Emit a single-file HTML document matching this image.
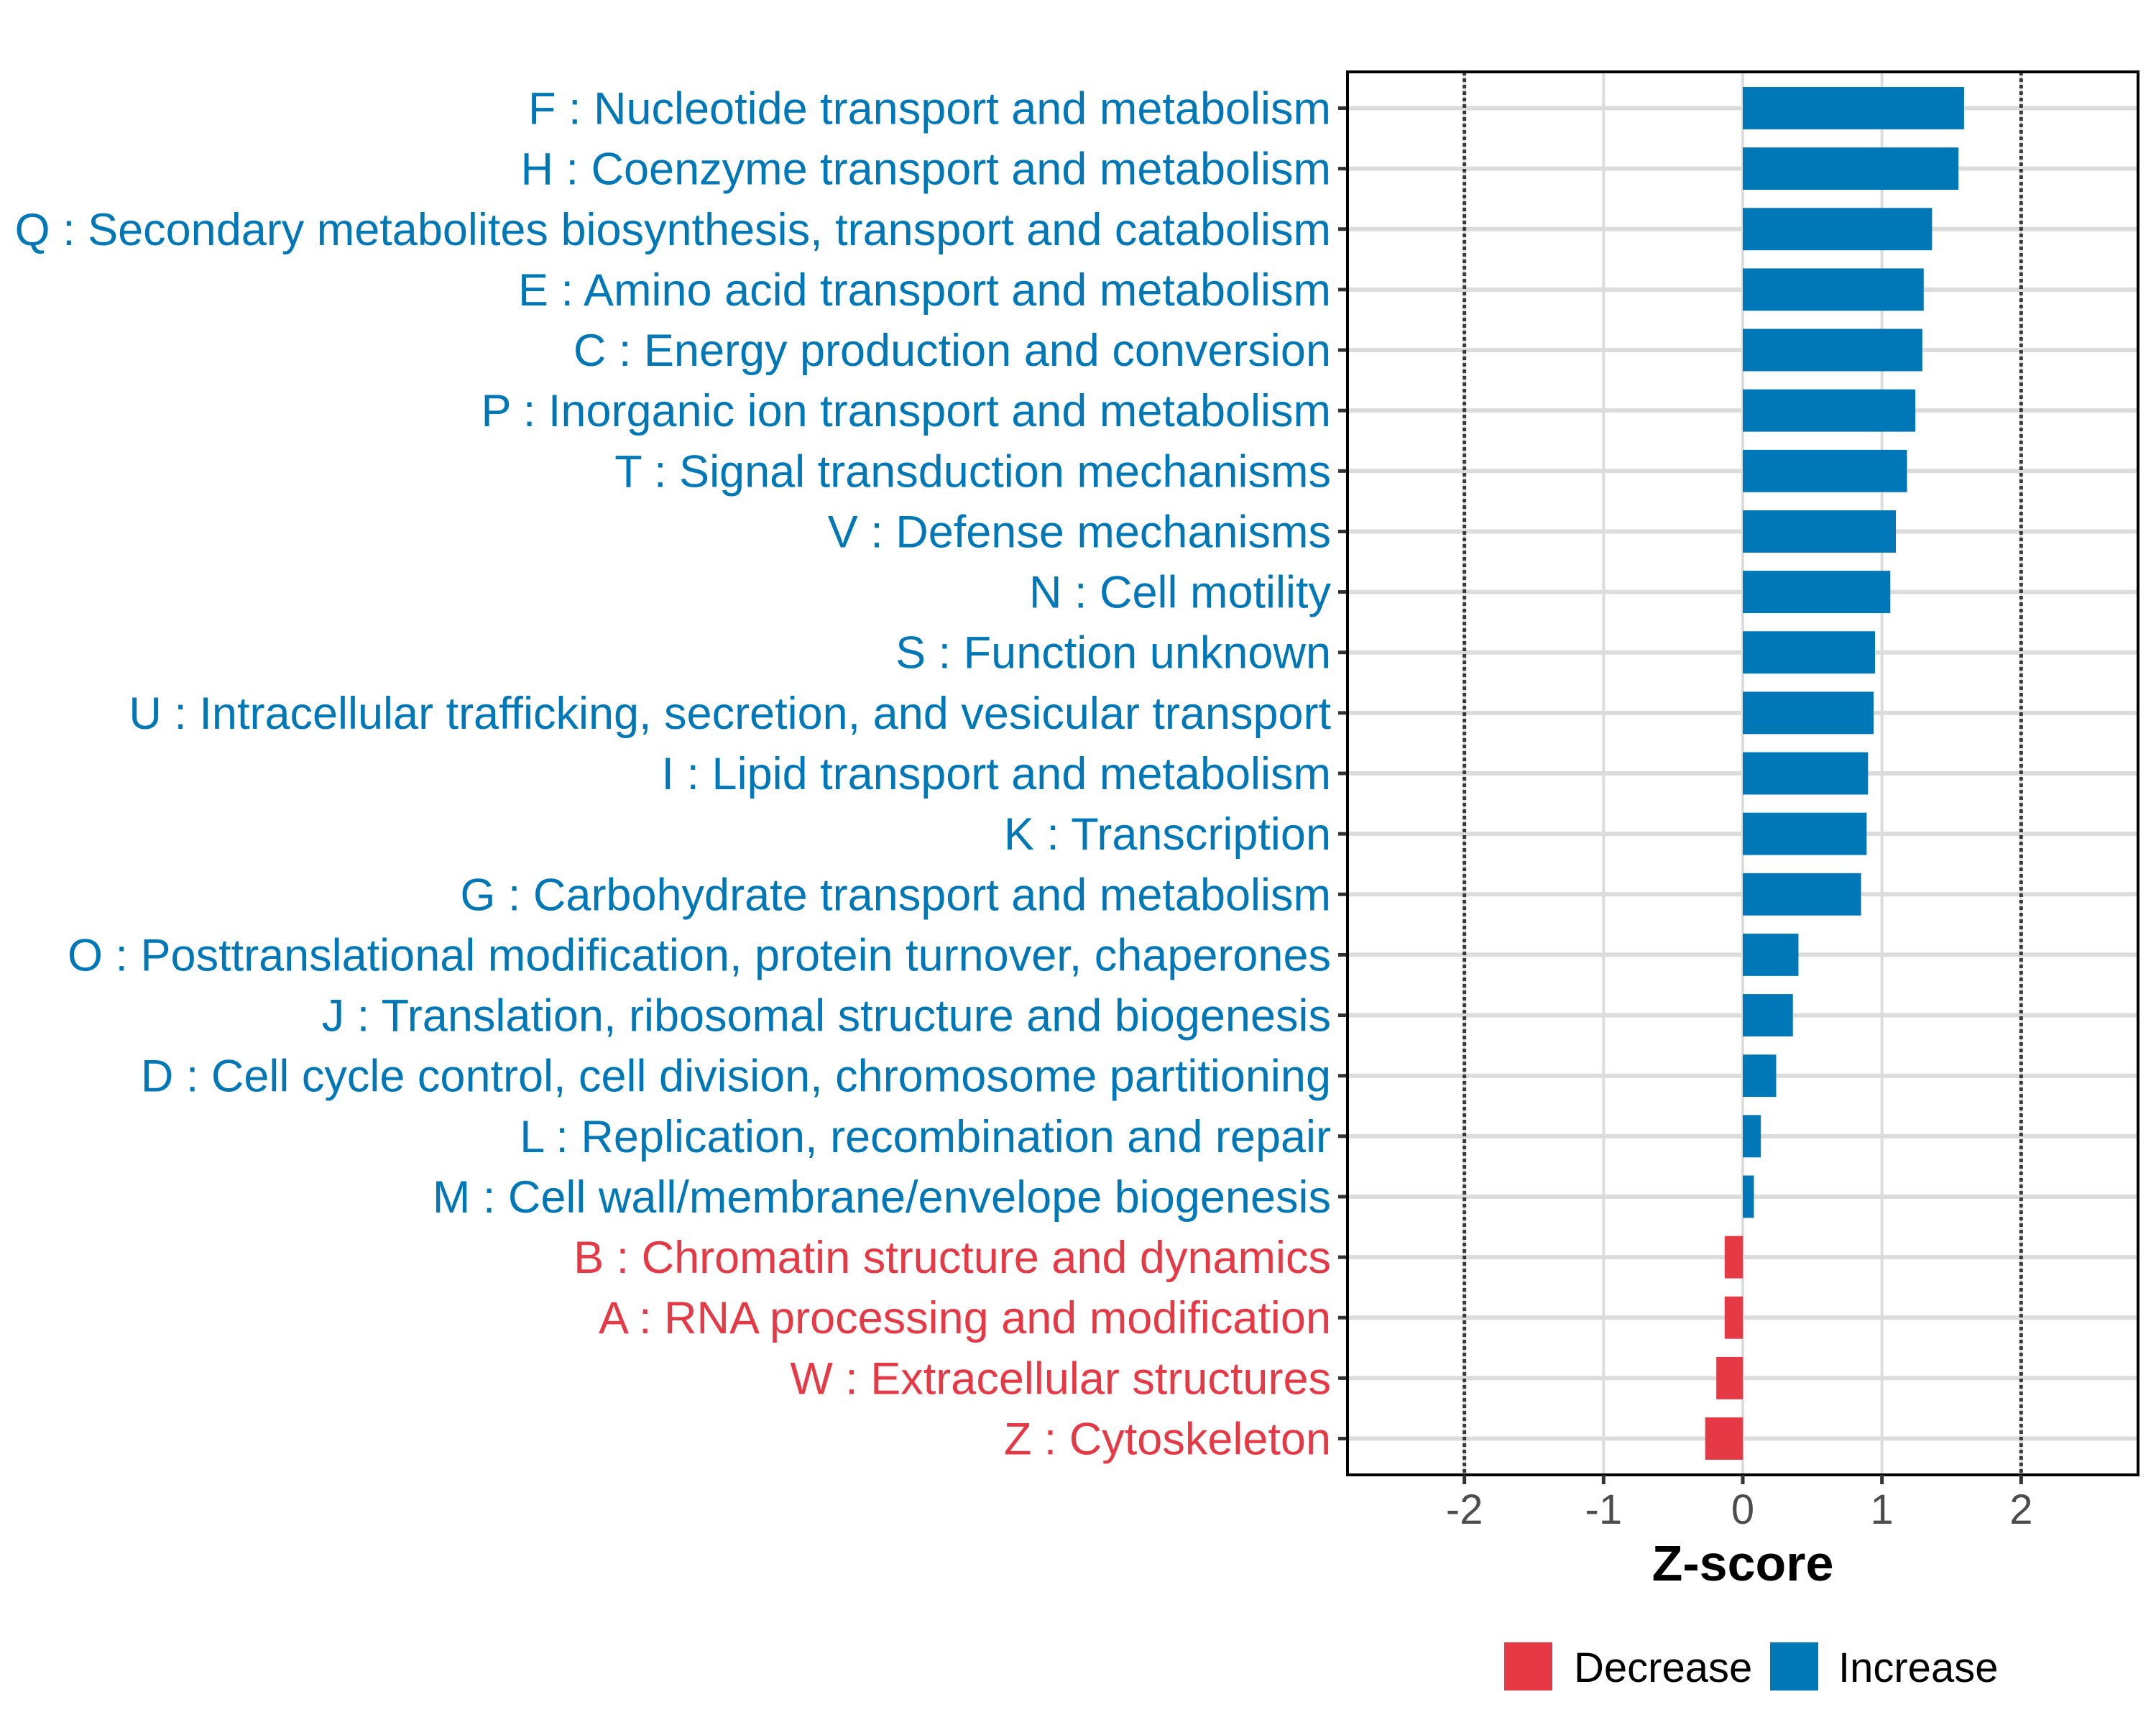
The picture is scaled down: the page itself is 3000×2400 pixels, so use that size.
<!DOCTYPE html>
<html><head><meta charset="utf-8"><style>
html,body{margin:0;padding:0;background:#fff;}
svg{display:block;font-family:"Liberation Sans",Arial,sans-serif;}
</style></head><body>
<svg id="chart" width="3000" height="2400" viewBox="0 0 3000 2400" xmlns="http://www.w3.org/2000/svg">
<rect width="3000" height="2400" fill="#fff"/>
<g id="grid"></g><g id="bars"></g><g id="axes"></g>
</svg>
<script>
const categories = ["F : Nucleotide transport and metabolism","H : Coenzyme transport and metabolism","Q : Secondary metabolites biosynthesis, transport and catabolism","E : Amino acid transport and metabolism","C : Energy production and conversion","P : Inorganic ion transport and metabolism","T : Signal transduction mechanisms","V : Defense mechanisms","N : Cell motility","S : Function unknown","U : Intracellular trafficking, secretion, and vesicular transport","I : Lipid transport and metabolism","K : Transcription","G : Carbohydrate transport and metabolism","O : Posttranslational modification, protein turnover, chaperones","J : Translation, ribosomal structure and biogenesis","D : Cell cycle control, cell division, chromosome partitioning","L : Replication, recombination and repair","M : Cell wall/membrane/envelope biogenesis","B : Chromatin structure and dynamics","A : RNA processing and modification","W : Extracellular structures","Z : Cytoskeleton"];
const zscores = [1.59,1.55,1.36,1.30,1.29,1.24,1.18,1.10,1.06,0.95,0.94,0.90,0.89,0.85,0.40,0.36,0.24,0.13,0.08,-0.13,-0.13,-0.19,-0.27];
const xTicks = [-2,-1,0,1,2];
const xTickLabels = ["-2","-1","0","1","2"];
const refLines = [-2,2];

const NS="http://www.w3.org/2000/svg";
const L=1875,R=2975,T=100,B=2052;
const xmin=-2.84,xmax=2.84;
const BLUE="#0077B6",RED="#E63946";
function xs(v){return L+(v-xmin)/(xmax-xmin)*(R-L);}
const n=categories.length;
const unit=(B-T)/(n-1+1.2);
function ys(i){return T+(0.6+i)*unit;}
function mk(tag,attrs,parent){const e=document.createElementNS(NS,tag);for(const k in attrs)e.setAttribute(k,attrs[k]);parent.appendChild(e);return e;}
const grid=document.getElementById('grid'),bars=document.getElementById('bars'),axes=document.getElementById('axes');

xTicks.forEach((t,i)=>{
  const g=mk('line',{x1:xs(t),x2:xs(t),y1:T,y2:B,stroke:'#dcdcdc','stroke-width':4},grid);
  
  
});
categories.forEach((c,i)=>{
  const g=mk('line',{x1:L,x2:R,y1:ys(i),y2:ys(i),stroke:'#dcdcdc','stroke-width':6},grid);
  
  
});
refLines.forEach(v=>{
  const l=mk('line',{x1:xs(v),x2:xs(v),y1:T,y2:B,stroke:'#3a3a3a','stroke-width':5,'stroke-dasharray':'5 4'},grid);
  
  
});
categories.forEach((c,i)=>{
  const v=zscores[i];
  const col=v<0?RED:BLUE;
  const bw=unit*0.7;
  const r=mk('rect',{x:Math.min(xs(0),xs(v)),y:ys(i)-bw/2,width:Math.abs(xs(v)-xs(0)),height:bw,fill:col},bars);
  
  
  const t=mk('text',{x:1852,y:ys(i)+22,'text-anchor':'end','font-size':63,fill:col},axes);
  t.textContent=c;
  
  
  const tk=mk('line',{x1:1862,x2:L,y1:ys(i),y2:ys(i),stroke:'#333','stroke-width':5},axes);
  
  
});
const frame=mk('rect',{x:L,y:T,width:R-L,height:B-T,fill:'none',stroke:'#000','stroke-width':4},axes);


xTicks.forEach((t,i)=>{
  const tk=mk('line',{x1:xs(t),x2:xs(t),y1:B,y2:B+13,stroke:'#333','stroke-width':5},axes);
  
  
  const lb=mk('text',{x:xs(t),y:2120,'text-anchor':'middle','font-size':58,fill:'#4d4d4d'},axes);
  lb.textContent=xTickLabels[i];
  
  
});
const xt=mk('text',{x:xs(0),y:2199,'text-anchor':'middle','font-size':70,'font-weight':'bold',fill:'#000'},axes);
xt.textContent='Z-score';


const legend=[["Decrease",RED,2093,2190],["Increase",BLUE,2463,2558]];
legend.forEach(([lab,col,kx,tx])=>{
  const k=mk('rect',{x:kx,y:2285,width:67,height:67,fill:col},axes);
  
  
  const t=mk('text',{x:tx,y:2340,'font-size':58,fill:'#000'},axes);
  t.textContent=lab;
  
  
});
</script>
</body></html>
